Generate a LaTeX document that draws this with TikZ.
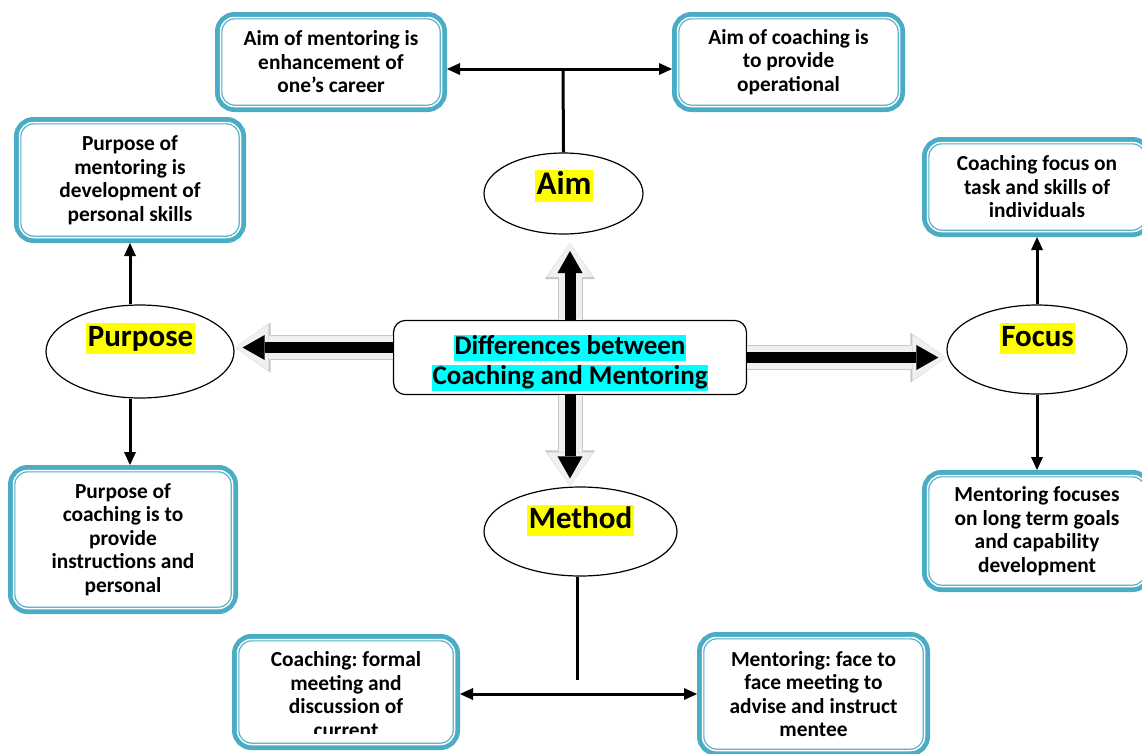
\documentclass[tikz,border=0pt]{standalone}
\usepackage{fontspec}
\setmainfont{Carlito}
\usetikzlibrary{shapes.geometric,arrows.meta}

\definecolor{aqua}{RGB}{75,172,198}
\definecolor{hlcyan}{RGB}{0,255,255}
\definecolor{hlyellow}{RGB}{255,255,0}
\frenchspacing
\setlength{\fboxsep}{1pt}
\newcommand{\hlc}[1]{\colorbox{hlcyan}{\rule[-5.5pt]{0pt}{24.5pt}#1}}

\tikzset{
	btext/.style={align=center, font=\fontsize{21.4}{23.5}\selectfont\bfseries},
	mbox/.style={btext, rounded corners=14pt, draw=aqua, line width=3.9pt, fill=white,
		preaction={draw=aqua, line width=11pt},
		postaction={draw=white, fill=none, line width=1.5pt},
		outer sep=5.5pt, inner sep=2pt},
	oval/.style={ellipse, draw, line width=1.2pt, fill=white, inner sep=0pt},
	hl/.style={fill=hlyellow, inner sep=1.5pt, text height=22pt, text depth=6pt,
		font=\fontsize{31}{31}\selectfont\bfseries},
	link/.style={line width=3pt},
	bigarrow/.style={draw=black!6, line width=23pt, -{Triangle[length=34pt,width=46pt,line width=0pt]},
		preaction={draw=black!22, line width=25pt, -{Triangle[length=36pt,width=50pt,line width=0pt]}},
		postaction={draw=black, line width=11pt, -{Triangle[length=22pt,width=25pt,line width=0pt]}, shorten >=8pt}}
}

\begin{document}
\begin{tikzpicture}[x=1pt, y=-1pt, >={Triangle[length=13pt,width=12pt,line width=0pt]}]
	\useasboundingbox (0,0) rectangle (1142,753);
	\clip (0,0) rectangle (1142,753);

	\node[draw, line width=1.2pt, rounded corners=12pt, minimum width=353pt, minimum height=68pt,
		align=center, font=\fontsize{27}{30}\selectfont\bfseries] (diff) at (570,357.5)
		{\rule{0pt}{31pt}\hlc{Differences between}\\\hlc{Coaching and Mentoring}};

	\node[mbox, minimum width=221pt, minimum height=89pt] (aimM) at (331,62) {Aim of mentoring is\\enhancement of\\one’s career};
	\node[mbox, minimum width=222pt, minimum height=89pt] (aimC) at (788.5,62) {Aim of coaching is\\to provide\\operational};
	\node[oval, minimum width=159pt, minimum height=81pt] (aim) at (563.5,193.5) {};
	\node[hl, font=\fontsize{33}{33}\selectfont\bfseries, text height=23.5pt] (aimT) at (564,186) {Aim};

	\node[mbox, minimum width=221pt, minimum height=115pt] (purM) at (130,180) {Purpose of\\mentoring is\\development of\\personal skills};
	\node[mbox, minimum width=219pt, minimum height=138pt] (purC) at (123,539.5) {Purpose of\\coaching is to\\provide\\instructions and\\personal};
	\node[oval, minimum width=188pt, minimum height=93pt] (purpose) at (140,351.5) {};
	\node[hl] (purT) at (140.5,338.5) {Purpose};

	\node[mbox, minimum width=219pt, minimum height=89pt] (focC) at (1037,187) {Coaching focus on\\task and skills of\\individuals};
	\node[mbox, minimum width=219pt, minimum height=111pt] (focM) at (1037,531) {Mentoring focuses\\on long term goals\\and capability\\development};
	\node[oval, minimum width=180pt, minimum height=89pt] (focus) at (1037,349.5) {};
	\node[hl] (focT) at (1037.5,338) {Focus};

	\node[mbox, minimum width=217pt, minimum height=105pt] (metC) at (346,692) {};
	\begin{scope}
		\clip (232,600) rectangle (470,733);
		\node[btext] (metCT) at (346,694.5) {Coaching: formal\\meeting and\\discussion of\\current};
	\end{scope}
	\node[mbox, minimum width=222pt, minimum height=113pt] (metM) at (813.5,694) {Mentoring: face to\\face meeting to\\advise and instruct\\mentee};
	\node[oval, minimum width=193pt, minimum height=89pt] (method) at (580.5,531.5) {};
	\node[hl] (metT) at (580.5,520) {Method};

	\coordinate (aimJ) at (563,69);
	\draw[link, <->] (aimM.east |- aimJ) -- (aimC.west |- aimJ);
	\draw[link] (aim.north) -- (aimJ);

	\draw[link, ->] (purM.south |- purpose.north) -- (purM.south);
	\draw[link, ->] (purM.south |- purpose.south) -- (purC.north -| purM.south);

	\draw[link, ->] (focus.north) -- (focC.south);
	\draw[link, ->] (focus.south) -- (focM.north);

	\coordinate (metJ) at (577,680);
	\draw[link] (metJ |- method.south) -- (metJ);
	\draw[link, <->] (metC.east |- metM.west) -- (metM.west);

	\coordinate (aimTip) at (570,243);
	\draw[bigarrow] (diff.north) -- (aimTip);
	\draw[bigarrow] (diff.south) -- (diff.south |- method.north);
	\draw[bigarrow] ([yshift=10pt]diff.west) -- ([yshift=10pt]diff.west -| purpose.east);
	\draw[bigarrow] (diff.east) -- (diff.east -| focus.west);
\end{tikzpicture}
\end{document}
